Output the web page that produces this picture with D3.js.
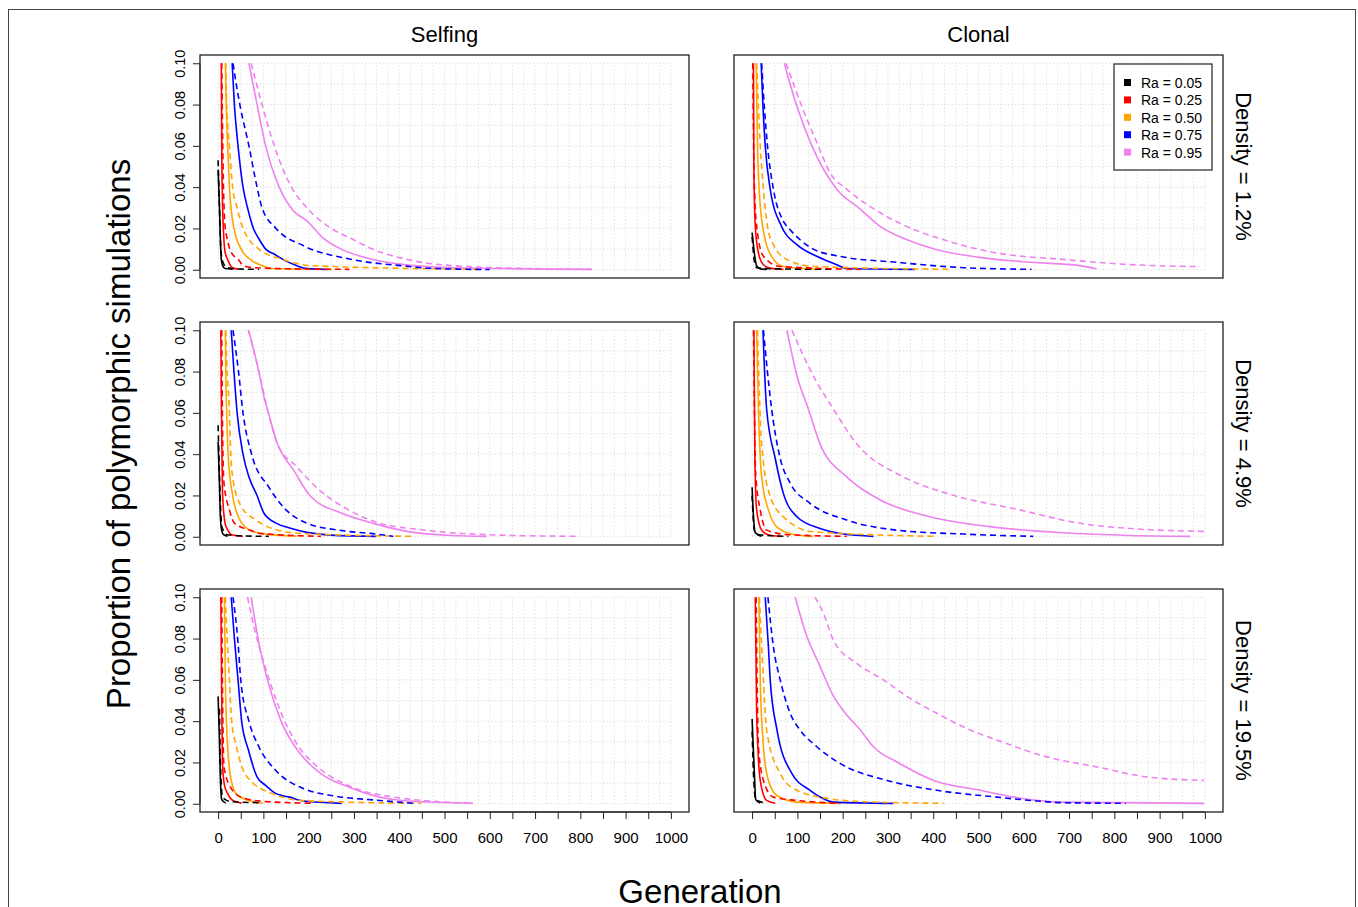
<!DOCTYPE html>
<head>
  <meta charset="utf-8">
  <script src="https://d3js.org/d3.v7.min.js"></script>
  <style>
    body { margin: 0; background: #fff; }
    text { font-family: "Liberation Sans", Arial, sans-serif; fill: #000; }
    .grid line { stroke: #d9d9d9; stroke-width: 0.8px; stroke-dasharray: 1.5,2; }
    .series { fill: none; stroke-width: 1.6px; }
  </style>
</head>

<body>
  <script>

    // Ra levels and colours
    var raLabels = ["Ra = 0.05", "Ra = 0.25", "Ra = 0.50", "Ra = 0.75", "Ra = 0.95"];
    var raColors = ["black", "red", "orange", "blue", "violet"];

    var columns = ["Selfing", "Clonal"];
    var densities = ["Density = 1.2%", "Density = 4.9%", "Density = 19.5%"];

    var xTicks = d3.range(0, 1001, 50);
    var yTicks = [0, 0.02, 0.04, 0.06, 0.08, 0.10];

    // [generation, proportion] for each Ra, solid and dashed curves per panel
    var selfing12Solid = [
      [[0,0.0485],[3,0.03],[5,0.015],[7,0.005],[10,0.002],[15,0.0006],[32,0.0003]],
      [[7,0.1],[8,0.06],[10,0.03],[12,0.018],[15,0.009],[21,0.005],[32,0.001],[44,0.0003]],
      [[16,0.1],[18,0.08],[21,0.06],[25,0.04],[35,0.02],[51,0.01],[74,0.0045],[97,0.002],[120,0.0006],[250,0.0002]],
      [[31,0.1],[36,0.08],[44,0.06],[55,0.04],[65,0.03],[78,0.02],[90,0.015],[105,0.01],[124,0.0076],[143,0.005],[173,0.002],[196,0.0006],[242,0.0001]],
      [[68,0.1],[86,0.08],[105,0.06],[135,0.04],[166,0.0286],[196,0.0237],[234,0.015],[272,0.01],[341,0.005],[402,0.0027],[516,0.001],[825,0.0002]]
    ];
    var selfing12Dashed = [
      [[0,0.053],[3,0.03],[6,0.01],[10,0.004],[20,0.001],[40,0.0004],[90,0.0002]],
      [[8,0.1],[11,0.05],[15,0.022],[20,0.015],[30,0.008],[45,0.005],[55,0.002],[80,0.001],[150,0.0005],[290,0.0002]],
      [[17,0.1],[19,0.08],[25,0.06],[32,0.04],[42,0.03],[55,0.02],[67,0.015],[90,0.01],[143,0.005],[204,0.002],[570,0.0002]],
      [[33,0.1],[40,0.09],[48,0.08],[68,0.06],[86,0.04],[97,0.03],[128,0.02],[189,0.0116],[295,0.005],[402,0.002],[478,0.0006],[600,0.0001]],
      [[73,0.1],[97,0.08],[124,0.06],[162,0.04],[196,0.03],[250,0.02],[295,0.015],[341,0.01],[417,0.005],[516,0.002],[707,0.0005],[825,0.0002]]
    ];

    var selfing49Solid = [
      [[0,0.046],[3,0.025],[5,0.01],[8,0.003],[12,0.001],[21,0.0003]],
      [[6,0.1],[7,0.07],[8,0.05],[10,0.02],[15,0.007],[21,0.0034],[30,0.001],[55,0.0002]],
      [[16,0.1],[17,0.08],[19,0.06],[22,0.04],[32,0.02],[44,0.01],[63,0.0042],[97,0.0015],[173,0.0003]],
      [[29,0.1],[35,0.08],[42,0.06],[55,0.04],[68,0.029],[86,0.02],[101,0.0115],[128,0.0066],[158,0.0042],[196,0.0021],[250,0.0008],[349,0.0002]],
      [[67,0.1],[90,0.08],[101,0.068],[111,0.06],[131,0.045],[166,0.0325],[204,0.0196],[272,0.0115],[341,0.0066],[417,0.0026],[516,0.0006],[593,0.0002]]
    ];
    var selfing49Dashed = [
      [[0,0.054],[3,0.03],[8,0.005],[20,0.001],[60,0.0004],[112,0.0002]],
      [[8,0.1],[10,0.05],[13,0.026],[25,0.013],[36,0.0066],[67,0.0034],[97,0.0015],[227,0.0002]],
      [[17,0.1],[20,0.08],[25,0.06],[28,0.04],[32,0.029],[51,0.0147],[82,0.0083],[128,0.0034],[189,0.0015],[432,0.0002]],
      [[33,0.1],[45,0.08],[55,0.06],[74,0.04],[112,0.024],[150,0.013],[196,0.0066],[272,0.003],[341,0.0015],[387,0.0002]],
      [[67,0.1],[90,0.08],[111,0.06],[131,0.045],[173,0.034],[227,0.022],[288,0.013],[356,0.0066],[448,0.0034],[593,0.001],[795,0.0002]]
    ];

    var selfing195Solid = [
      [[0,0.052],[3,0.03],[5,0.012],[8,0.002],[17,0.0003]],
      [[6,0.1],[8,0.05],[10,0.018],[14,0.009],[21,0.005],[30,0.002],[52,0.0003]],
      [[14,0.1],[16,0.06],[21,0.0276],[29,0.0113],[40,0.0049],[67,0.0016],[98,0.0003]],
      [[29,0.1],[36,0.08],[44,0.06],[52,0.04],[67,0.026],[86,0.013],[105,0.0089],[128,0.0049],[158,0.0032],[189,0.0013],[273,0.0002]],
      [[73,0.1],[90,0.078],[109,0.06],[139,0.04],[181,0.0243],[227,0.0146],[288,0.0081],[357,0.0032],[418,0.0013],[563,0.0002]]
    ];
    var selfing195Dashed = [
      [[3,0.046],[5,0.02],[10,0.003],[30,0.001],[98,0.0005]],
      [[8,0.1],[10,0.05],[13,0.018],[25,0.009],[52,0.003],[98,0.0012],[208,0.0002]],
      [[16,0.1],[20,0.08],[25,0.06],[30,0.04],[40,0.028],[56,0.016],[75,0.0105],[120,0.0049],[189,0.0015],[448,0.0002]],
      [[33,0.1],[44,0.078],[50,0.06],[68,0.04],[90,0.0276],[128,0.016],[189,0.0073],[250,0.004],[357,0.0016],[433,0.0002]],
      [[65,0.1],[80,0.085],[113,0.06],[147,0.04],[178,0.0276],[220,0.0178],[296,0.0081],[388,0.0032],[555,0.0003]]
    ];

    var clonal12Solid = [
      [[0,0.018],[3,0.012],[5,0.008],[10,0.002],[20,0.0003],[32,0.0002]],
      [[3,0.1],[4,0.047],[7,0.0211],[14,0.0081],[25,0.0024],[40,0.0008],[69,0.0002]],
      [[9,0.1],[12,0.06],[18,0.031],[29,0.0146],[43,0.0065],[69,0.0016],[143,0.0002]],
      [[20,0.1],[24,0.079],[29,0.06],[40,0.039],[65,0.021],[99,0.0122],[143,0.0065],[187,0.0024],[209,0.0006],[360,0.0002]],
      [[71,0.1],[99,0.079],[132,0.06],[187,0.039],[238,0.0295],[283,0.021],[341,0.0146],[408,0.0097],[503,0.006],[614,0.0036],[724,0.002],[761,0.0005]]
    ];
    var clonal12Dashed = [
      [[0,0.016],[5,0.004],[10,0.001],[60,0.0004],[180,0.0002]],
      [[1.5,0.1],[4,0.05],[10,0.021],[25,0.0065],[62,0.0016],[238,0.0002]],
      [[10,0.1],[18,0.06],[25,0.039],[34,0.021],[47,0.0122],[77,0.0049],[135,0.0016],[437,0.0002]],
      [[21,0.1],[27,0.079],[34,0.06],[47,0.039],[69,0.0235],[84,0.0194],[135,0.01],[194,0.0065],[319,0.0036],[467,0.001],[617,0.0002]],
      [[75,0.1],[110,0.079],[146,0.06],[172,0.047],[209,0.039],[283,0.0276],[341,0.021],[422,0.0146],[540,0.0081],[687,0.005],[834,0.0025],[989,0.0015]]
    ];

    var clonal49Solid = [
      [[0,0.024],[3,0.01],[7,0.002],[21,0.0002]],
      [[4,0.1],[6,0.04],[10,0.013],[21,0.0032],[35,0.001],[62,0.0002]],
      [[10,0.1],[14,0.062],[21,0.029],[36,0.013],[54,0.0049],[90,0.0012],[135,0.0002]],
      [[24,0.1],[32,0.062],[51,0.038],[69,0.021],[99,0.0097],[150,0.004],[202,0.0013],[268,0.0002]],
      [[77,0.1],[99,0.078],[124,0.062],[150,0.045],[209,0.029],[283,0.0178],[393,0.0097],[525,0.0049],[687,0.0019],[834,0.0006],[967,0.0002]]
    ];
    var clonal49Dashed = [
      [[0,0.02],[5,0.003],[15,0.001],[80,0.0002]],
      [[3,0.1],[8,0.03],[18,0.013],[32,0.0032],[80,0.001],[209,0.0002]],
      [[12,0.1],[16,0.07],[21,0.045],[40,0.0195],[69,0.0097],[135,0.0024],[408,0.0002]],
      [[25,0.1],[43,0.062],[62,0.038],[84,0.026],[128,0.0162],[209,0.0081],[319,0.0032],[466,0.0013],[621,0.0002]],
      [[88,0.1],[135,0.078],[179,0.062],[231,0.045],[334,0.029],[430,0.021],[591,0.013],[724,0.0065],[834,0.004],[1000,0.0026]]
    ];

    var clonal195Solid = [
      [[0,0.041],[3,0.025],[5,0.015],[8,0.002],[18,0.0003]],
      [[7,0.1],[10,0.044],[18,0.0113],[32,0.0016],[51,0.0002]],
      [[15,0.1],[18,0.06],[25,0.0276],[36,0.0113],[55,0.004],[99,0.0008],[195,0.0002]],
      [[29,0.1],[36,0.076],[40,0.06],[55,0.0357],[88,0.0146],[128,0.0065],[158,0.0024],[180,0.0008],[312,0.0002]],
      [[95,0.1],[121,0.081],[147,0.068],[180,0.052],[206,0.0438],[239,0.0357],[268,0.0276],[327,0.0194],[401,0.0113],[504,0.0065],[578,0.0032],[688,0.0008],[998,0.0002]]
    ];
    var clonal195Dashed = [
      [[0,0.035],[4,0.01],[8,0.002],[32,0.0003]],
      [[9,0.1],[14,0.0276],[25,0.0113],[47,0.0032],[99,0.0016],[195,0.0002]],
      [[16,0.1],[25,0.06],[32,0.0357],[62,0.0146],[99,0.0065],[172,0.0024],[246,0.001],[423,0.0002]],
      [[35,0.1],[47,0.076],[62,0.06],[84,0.0438],[106,0.0357],[143,0.0276],[195,0.0194],[298,0.0113],[408,0.0065],[541,0.0032],[615,0.0016],[688,0.0005],[825,0.0002]],
      [[139,0.1],[158,0.092],[180,0.079],[231,0.068],[290,0.06],[342,0.052],[408,0.0438],[482,0.0357],[541,0.0308],[651,0.0227],[762,0.0178],[872,0.013],[998,0.0113]]
    ];

    var panels = [
      { row: 0, col: 0, solid: selfing12Solid, dashed: selfing12Dashed },
      { row: 0, col: 1, solid: clonal12Solid, dashed: clonal12Dashed },
      { row: 1, col: 0, solid: selfing49Solid, dashed: selfing49Dashed },
      { row: 1, col: 1, solid: clonal49Solid, dashed: clonal49Dashed },
      { row: 2, col: 0, solid: selfing195Solid, dashed: selfing195Dashed },
      { row: 2, col: 1, solid: clonal195Solid, dashed: clonal195Dashed }
    ];

    var svg = d3.select("body").append("svg")
      .attr("width", 1358)
      .attr("height", 907);

    // outer frame
    svg.append("rect")
      .attr("x", 8.5).attr("y", 9.5)
      .attr("width", 1347).attr("height", 920)
      .attr("fill", "none")
      .attr("stroke", "#444")
      .attr("stroke-width", 1);

    var colX = [200, 734];
    var rowY = [55, 322, 589];
    var pw = 489, ph = 223;

    // R style 4% padding on both axes
    var x = d3.scaleLinear().domain([-40, 1040]).range([0, pw]);
    var y = d3.scaleLinear().domain([-0.004, 0.104]).range([ph, 0]);

    var line = d3.line()
      .x(function(d) { return x(d[0]); })
      .y(function(d) { return y(d[1]); })
      .curve(d3.curveMonotoneX);

    panels.forEach(function(p, i) {
      var g = svg.append("g")
        .attr("transform", "translate(" + colX[p.col] + "," + rowY[p.row] + ")");

      g.append("clipPath").attr("id", "clip" + i)
        .append("rect").attr("width", pw).attr("height", ph);

      var grid = g.append("g").attr("class", "grid");
      grid.selectAll(".gx").data(d3.range(0, 1001, 25)).enter().append("line")
        .attr("x1", function(d) { return x(d); })
        .attr("x2", function(d) { return x(d); })
        .attr("y1", y(0)).attr("y2", y(0.1));
      grid.selectAll(".gy").data(d3.range(0, 11).map(function(k) { return k / 100; })).enter().append("line")
        .attr("y1", function(d) { return y(d); })
        .attr("y2", function(d) { return y(d); })
        .attr("x1", x(0)).attr("x2", x(1000));

      var lines = g.append("g").attr("clip-path", "url(#clip" + i + ")");
      lines.selectAll(".solid").data(p.solid).enter().append("path")
        .attr("class", "series")
        .attr("d", line)
        .attr("stroke", function(d, k) { return raColors[k]; });
      lines.selectAll(".dashed").data(p.dashed).enter().append("path")
        .attr("class", "series")
        .attr("d", line)
        .attr("stroke", function(d, k) { return raColors[k]; })
        .style("stroke-dasharray", "6,4");

      g.append("rect")
        .attr("width", pw).attr("height", ph)
        .attr("fill", "none")
        .attr("stroke", "#222")
        .attr("stroke-width", 1.3);

      if (p.col === 0) {
        var ay = g.append("g")
          .call(d3.axisLeft(y).tickValues(yTicks).tickSize(7).tickPadding(5).tickFormat(d3.format(".2f")));
        ay.select(".domain").attr("d", "M0," + y(0) + "V" + y(0.1)).attr("stroke", "#222");
        ay.selectAll(".tick line").attr("stroke", "#222");
        ay.selectAll("text")
          .attr("transform", "rotate(-90)")
          .attr("x", 0).attr("y", -20)
          .attr("dy", "0.35em")
          .style("text-anchor", "middle")
          .style("font-size", "14.5px")
          .style("font-family", "Liberation Sans, Arial, sans-serif");
      }

      if (p.row === 2) {
        var ax = g.append("g")
          .attr("transform", "translate(0," + ph + ")")
          .call(d3.axisBottom(x).tickValues(xTicks).tickSize(7).tickPadding(13)
            .tickFormat(function(d) { return d % 100 === 0 ? d : ""; }));
        ax.select(".domain").attr("d", "M" + x(0) + ",0H" + x(1000)).attr("stroke", "#222");
        ax.selectAll(".tick line").attr("stroke", "#222");
        ax.selectAll("text")
          .style("font-size", "15px")
          .style("font-family", "Liberation Sans, Arial, sans-serif");
      }
    });

    // column titles
    svg.selectAll(".coltitle").data(columns).enter().append("text")
      .attr("x", function(d, i) { return colX[i] + pw / 2; })
      .attr("y", 42)
      .style("font-size", "22px")
      .style("text-anchor", "middle")
      .text(function(d) { return d; });

    // density strip labels
    svg.selectAll(".rowtitle").data(densities).enter().append("text")
      .attr("transform", function(d, i) {
        return "translate(1236," + (rowY[i] + ph / 2) + ") rotate(90)";
      })
      .style("font-size", "22px")
      .style("text-anchor", "middle")
      .text(function(d) { return d; });

    // axis titles
    svg.append("text")
      .attr("transform", "translate(130,434) rotate(-90)")
      .style("font-size", "33px")
      .style("text-anchor", "middle")
      .text("Proportion of polymorphic simulations");

    svg.append("text")
      .attr("x", 700).attr("y", 903)
      .style("font-size", "33px")
      .style("text-anchor", "middle")
      .text("Generation");

    // legend
    var lg = svg.append("g").attr("transform", "translate(1114,64)");
    lg.append("rect")
      .attr("width", 98).attr("height", 106)
      .attr("fill", "white")
      .attr("stroke", "#222")
      .attr("stroke-width", 1.2);
    var items = lg.selectAll(".item").data(raLabels).enter().append("g")
      .attr("transform", function(d, i) { return "translate(0," + (19 + i * 17.4) + ")"; });
    items.append("rect")
      .attr("x", 10).attr("y", -4)
      .attr("width", 7).attr("height", 7)
      .attr("fill", function(d, i) { return raColors[i]; });
    items.append("text")
      .attr("x", 27).attr("dy", "0.35em")
      .style("font-size", "14px")
      .text(function(d) { return d; });

  </script>
</body>
